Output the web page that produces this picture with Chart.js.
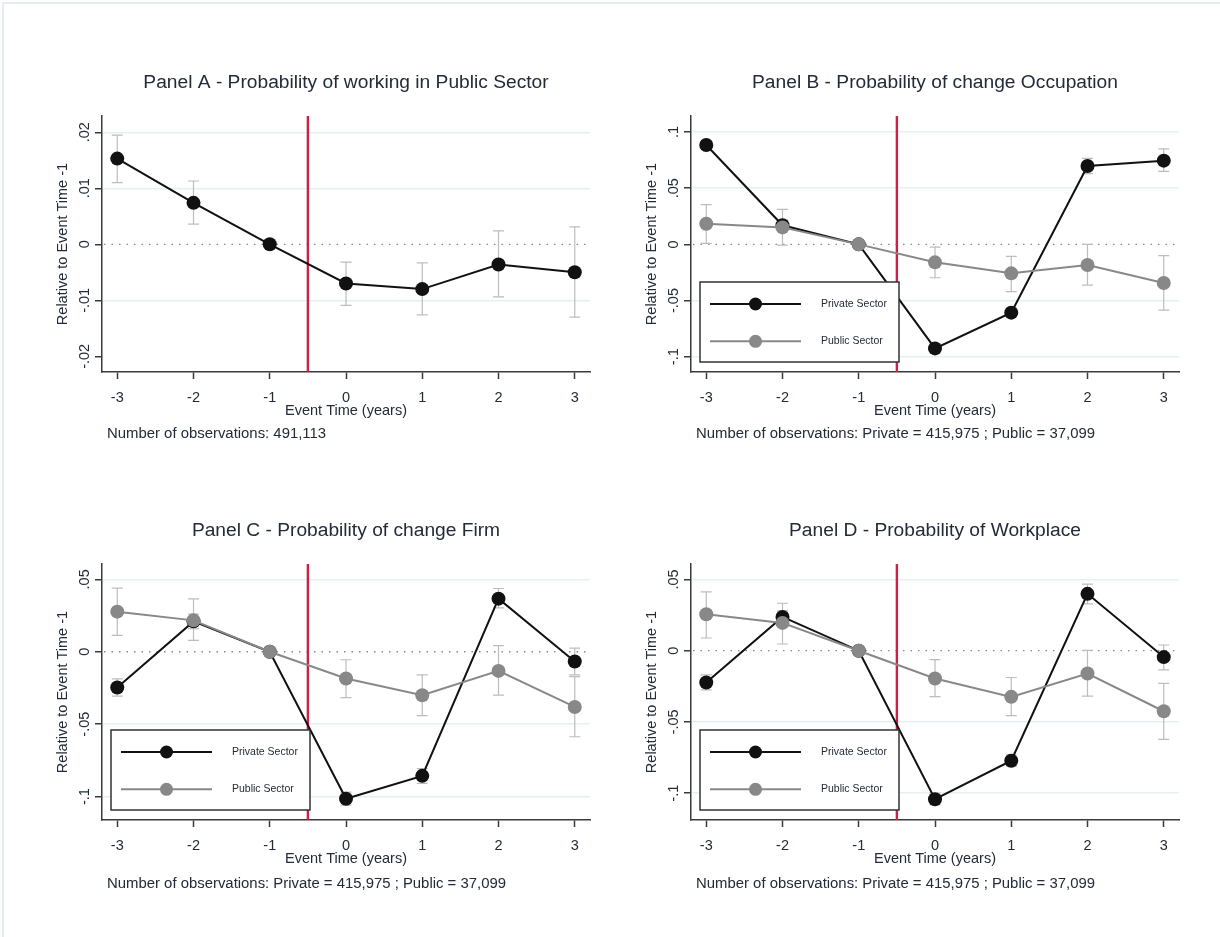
<!DOCTYPE html>
<html>
<head>
<meta charset="utf-8">
<script src="https://cdn.jsdelivr.net/npm/chart.js@4.4.1/dist/chart.umd.min.js"></script>
<style>
  html, body { margin: 0; padding: 0; background: #fff; }
  body { width: 1220px; height: 937px; position: relative; overflow: hidden;
         font-family: "Liberation Sans", Arial, sans-serif; }
  .frame { position: absolute; left: 2px; top: 2px; width: 1240px; height: 960px;
           border-top: 2px solid #e4eeee; border-left: 2px solid #e4eeee; }
  .panel { position: absolute; width: 600px; height: 448px; }
  .panel canvas { display: block; }
  .note { position: absolute; font-size: 14.9px; line-height: 17px; color: #222b38; white-space: nowrap; }
</style>
</head>
<body>
<div class="frame"></div>
<div class="panel" style="left:0;top:0"><canvas id="panelA" width="600" height="448"></canvas></div>
<div class="panel" style="left:589px;top:0"><canvas id="panelB" width="600" height="448"></canvas></div>
<div class="panel" style="left:0;top:448px"><canvas id="panelC" width="600" height="448"></canvas></div>
<div class="panel" style="left:589px;top:448px"><canvas id="panelD" width="600" height="448"></canvas></div>
<div class="note" style="left:107px;top:425px">Number of observations: 491,113</div>
<div class="note" style="left:696px;top:425px">Number of observations: Private = 415,975 ; Public = 37,099</div>
<div class="note" style="left:107px;top:875px">Number of observations: Private = 415,975 ; Public = 37,099</div>
<div class="note" style="left:696px;top:875px">Number of observations: Private = 415,975 ; Public = 37,099</div>

<script>
// ---- Event-study estimates (relative to event time -1) ----
const eventTime = [-3, -2, -1, 0, 1, 2, 3];
const treatmentAt = -0.5;

// Panel A: probability of working in the public sector
const publicJobCoef = [0.0153, 0.0074, 0, -0.0070, -0.0080, -0.0036, -0.0050];
const publicJobLow  = [0.0110, 0.0036, null, -0.0109, -0.0126, -0.0094, -0.0130];
const publicJobHigh = [0.0195, 0.0113, null, -0.0032, -0.0033, 0.0024, 0.0031];

// Panel B: probability of changing occupation
const occPrivate     = [0.0884, 0.0170, 0, -0.0926, -0.0608, 0.0697, 0.0745];
const occPrivateLow  = [0.0850, 0.0125, null, -0.0965, -0.0645, 0.0630, 0.0650];
const occPrivateHigh = [0.0918, 0.0215, null, -0.0887, -0.0571, 0.0765, 0.0850];
const occPublic      = [0.0184, 0.0151, 0, -0.0160, -0.0258, -0.0184, -0.0344];
const occPublicLow   = [0.0009, -0.0006, null, -0.0297, -0.0421, -0.0362, -0.0585];
const occPublicHigh  = [0.0353, 0.0312, null, -0.0024, -0.0107, 0.0000, -0.0101];

// Panel C: probability of changing firm
const firmPrivate     = [-0.0247, 0.0210, 0, -0.1015, -0.0857, 0.0367, -0.0067];
const firmPrivateLow  = [-0.0307, 0.0160, null, -0.1060, -0.0909, 0.0303, -0.0160];
const firmPrivateHigh = [-0.0187, 0.0260, null, -0.0970, -0.0807, 0.0437, 0.0025];
const firmPublic      = [0.0277, 0.0217, 0, -0.0185, -0.0300, -0.0132, -0.0381];
const firmPublicLow   = [0.0113, 0.0079, null, -0.0317, -0.0441, -0.0300, -0.0587];
const firmPublicHigh  = [0.0439, 0.0365, null, -0.0055, -0.0160, 0.0042, -0.0171];

// Panel D: probability of changing workplace
const workPrivate     = [-0.0223, 0.0237, 0, -0.1042, -0.0772, 0.0399, -0.0045];
const workPrivateLow  = [-0.0275, 0.0190, null, -0.1080, -0.0810, 0.0329, -0.0134];
const workPrivateHigh = [-0.0169, 0.0280, null, -0.1000, -0.0730, 0.0467, 0.0040];
const workPublic      = [0.0256, 0.0195, 0, -0.0195, -0.0324, -0.0160, -0.0425];
const workPublicLow   = [0.0089, 0.0047, null, -0.0322, -0.0455, -0.0319, -0.0622];
const workPublicHigh  = [0.0413, 0.0333, null, -0.0063, -0.0188, 0.0002, -0.0230];

// y-axis tick values
const yTicksA  = [-0.02, -0.01, 0, 0.01, 0.02];
const yTicksB  = [-0.1, -0.05, 0, 0.05, 0.1];
const yTicksCD = [-0.1, -0.05, 0, 0.05];

// ---- styling ----
const FONT = '"Liberation Sans", Arial, sans-serif';
const TEXT = '#222b38';
const AXIS = '#3a3a3a';
const GRID = '#e6eff1';
const PRIVATE_COLOR = '#111111';
const PUBLIC_COLOR = '#888888';
const CI_COLOR = '#bdbdbd';

function stataFmt(v) {
  if (v === 0) return '0';
  const s = String(+v.toFixed(4));
  return s.replace(/^(-?)0\./, '$1.');
}

function series(label, ys, lo, hi, color, order) {
  return {
    label,
    data: eventTime.map((t, i) => ({ x: t, y: ys[i] })),
    ciLow: lo, ciHigh: hi,
    borderColor: color, backgroundColor: color,
    pointBackgroundColor: color, pointBorderColor: color,
    borderWidth: 2, pointRadius: 7, pointBorderWidth: 0, pointHoverRadius: 7,
    tension: 0, order
  };
}

// zero reference line (dotted) and treatment date (red vertical line)
const refLinesPlugin = {
  id: 'refLines',
  beforeDatasetsDraw(chart) {
    const { ctx, chartArea: a, scales: { x, y } } = chart;
    ctx.save();
    const y0 = y.getPixelForValue(0);
    ctx.strokeStyle = '#8a8a8a';
    ctx.lineWidth = 1.3;
    ctx.setLineDash([1.5, 6]);
    ctx.beginPath();
    ctx.moveTo(a.left + 2, y0);
    ctx.lineTo(a.right, y0);
    ctx.stroke();
    ctx.setLineDash([]);
    const xr = x.getPixelForValue(treatmentAt);
    ctx.strokeStyle = '#cf1f45';
    ctx.lineWidth = 2.4;
    ctx.beginPath();
    ctx.moveTo(xr, a.top);
    ctx.lineTo(xr, a.bottom);
    ctx.stroke();
    ctx.restore();
  }
};

// capped confidence intervals
const errorBarsPlugin = {
  id: 'errorBars',
  beforeDatasetsDraw(chart) {
    const { ctx, scales: { x, y } } = chart;
    ctx.save();
    ctx.strokeStyle = CI_COLOR;
    ctx.lineWidth = 1.2;
    chart.data.datasets.forEach(ds => {
      if (!ds.ciLow) return;
      ds.data.forEach((p, i) => {
        const lo = ds.ciLow[i], hi = ds.ciHigh[i];
        if (lo == null || hi == null) return;
        const px = x.getPixelForValue(p.x);
        const y1 = y.getPixelForValue(lo), y2 = y.getPixelForValue(hi);
        const w = 5.5;
        ctx.beginPath();
        ctx.moveTo(px, y1); ctx.lineTo(px, y2);
        ctx.moveTo(px - w, y1); ctx.lineTo(px + w, y1);
        ctx.moveTo(px - w, y2); ctx.lineTo(px + w, y2);
        ctx.stroke();
      });
    });
    ctx.restore();
  }
};

// vertical (rotated) y tick labels
const yLabelsPlugin = {
  id: 'yLabels',
  afterDraw(chart) {
    const { ctx, scales: { y } } = chart;
    ctx.save();
    ctx.fillStyle = TEXT;
    ctx.font = '14.5px ' + FONT;
    ctx.textAlign = 'center';
    ctx.textBaseline = 'middle';
    y.ticks.forEach(t => {
      const py = y.getPixelForValue(t.value);
      ctx.save();
      ctx.translate(85, py);
      ctx.rotate(-Math.PI / 2);
      ctx.fillText(stataFmt(t.value), 0, 0);
      ctx.restore();
    });
    ctx.restore();
  }
};

// boxed legend in the lower-left corner of the plot region
const boxLegendPlugin = {
  id: 'boxLegend',
  afterDatasetsDraw(chart, args, opts) {
    if (!opts || !opts.show) return;
    const { ctx, chartArea: a } = chart;
    const bx = a.left + 9, bw = 199, bh = 80, by = a.bottom - 10 - bh;
    ctx.save();
    ctx.fillStyle = '#ffffff';
    ctx.fillRect(bx, by, bw, bh);
    ctx.strokeStyle = '#333333';
    ctx.lineWidth = 1.5;
    ctx.strokeRect(bx, by, bw, bh);
    const rows = [22, 59.3];
    chart.data.datasets.forEach((ds, i) => {
      const ry = by + rows[i];
      ctx.strokeStyle = ds.borderColor;
      ctx.lineWidth = 2;
      ctx.beginPath();
      ctx.moveTo(bx + 10, ry);
      ctx.lineTo(bx + 101, ry);
      ctx.stroke();
      ctx.fillStyle = ds.pointBackgroundColor;
      ctx.beginPath();
      ctx.arc(bx + 55.5, ry, 6.5, 0, Math.PI * 2);
      ctx.fill();
      ctx.fillStyle = TEXT;
      ctx.font = '10.5px ' + FONT;
      ctx.textAlign = 'left';
      ctx.textBaseline = 'middle';
      ctx.fillText(ds.label, bx + 121, ry);
    });
    ctx.restore();
  }
};

function makePanel(id, title, datasets, yMin, yMax, yTicks, gridSkip, legend) {
  return new Chart(document.getElementById(id), {
    type: 'line',
    data: { datasets },
    plugins: [refLinesPlugin, errorBarsPlugin, yLabelsPlugin, boxLegendPlugin],
    options: {
      responsive: false,
      animation: false,
      devicePixelRatio: 1,
      events: [],
      layout: { padding: { left: 0, right: 10, top: 0, bottom: 0 } },
      plugins: {
        legend: { display: false },
        tooltip: { enabled: false },
        boxLegend: { show: legend },
        title: {
          display: true, text: title, color: TEXT, fullSize: false,
          font: { family: FONT, size: 19.2, weight: 'normal' },
          padding: { top: 71.5, bottom: 21.5 }
        }
      },
      scales: {
        x: {
          type: 'linear', min: -3.2, max: 3.2,
          afterBuildTicks: s => { s.ticks = eventTime.map(v => ({ value: v })); },
          afterFit: s => { s.height = 76; },
          ticks: { color: TEXT, font: { family: FONT, size: 14.5 }, padding: 10, maxRotation: 0,
                   callback: v => String(v) },
          grid: { drawOnChartArea: false, drawTicks: true, tickLength: 7, tickColor: AXIS, tickWidth: 1.5 },
          border: { color: AXIS, width: 1.5 },
          title: { display: true, text: 'Event Time (years)', color: TEXT,
                   font: { family: FONT, size: 14.5 }, padding: { top: 0, bottom: 28 } }
        },
        y: {
          type: 'linear', min: yMin, max: yMax,
          afterBuildTicks: s => { s.ticks = yTicks.map(v => ({ value: v })); },
          afterFit: s => { s.width = 102; },
          ticks: { display: false },
          grid: {
            color: c => (c.tick && (c.tick.value === 0 || gridSkip.includes(c.tick.value))) ? 'rgba(0,0,0,0)' : GRID,
            lineWidth: 1.5, drawTicks: true, tickLength: 7, tickColor: AXIS, tickWidth: 1.5
          },
          border: { color: AXIS, width: 1.5 },
          title: { display: true, text: 'Relative to Event Time -1', color: TEXT,
                   font: { family: FONT, size: 14.5 }, padding: { top: 54.3, bottom: 0 } }
        }
      }
    }
  });
}

makePanel('panelA', 'Panel A - Probability of working in Public Sector',
  [series('Public Sector', publicJobCoef, publicJobLow, publicJobHigh, PRIVATE_COLOR, 1)],
  -0.0228, 0.0229, yTicksA, [-0.02], false);

makePanel('panelB', 'Panel B - Probability of change Occupation',
  [series('Private Sector', occPrivate, occPrivateLow, occPrivateHigh, PRIVATE_COLOR, 2),
   series('Public Sector', occPublic, occPublicLow, occPublicHigh, PUBLIC_COLOR, 1)],
  -0.1136, 0.1142, yTicksB, [], true);

makePanel('panelC', 'Panel C - Probability of change Firm',
  [series('Private Sector', firmPrivate, firmPrivateLow, firmPrivateHigh, PRIVATE_COLOR, 2),
   series('Public Sector', firmPublic, firmPublicLow, firmPublicHigh, PUBLIC_COLOR, 1)],
  -0.1162, 0.0606, yTicksCD, [], true);

makePanel('panelD', 'Panel D - Probability of Workplace',
  [series('Private Sector', workPrivate, workPrivateLow, workPrivateHigh, PRIVATE_COLOR, 2),
   series('Public Sector', workPublic, workPublicLow, workPublicHigh, PUBLIC_COLOR, 1)],
  -0.1188, 0.0608, yTicksCD, [], true);
</script>
</body>
</html>
